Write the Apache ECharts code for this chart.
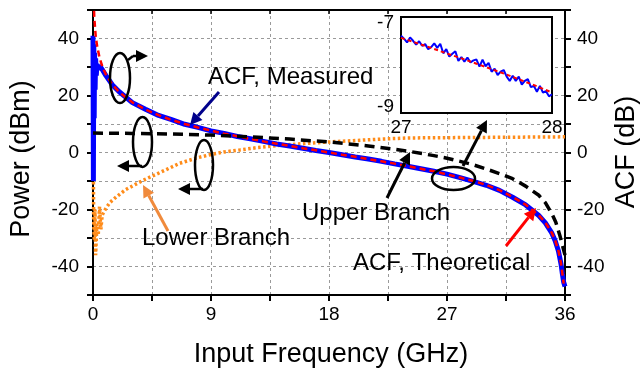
<!DOCTYPE html>
<html><head><meta charset="utf-8">
<script src="https://cdn.jsdelivr.net/npm/echarts@6/dist/echarts.min.js"></script>
<style>html,body{margin:0;padding:0;background:#fff}#c{width:641px;height:375px}</style>
</head><body><div id="c"></div>
<script>
// ---------- data (GHz, dB / dBm) ----------
const xTickLabels = [0, 9, 18, 27, 36];
const yTickLabels = [-40, -20, 0, 20, 40];
const insetXLabels = [27, 28];
const insetYLabels = [-9, -7];

const acfTheoX = [0.05,0.1,0.2,0.3,0.5,0.75,1,1.5,2,3,4,5,6,7,8,9,10,11,12,13,14,15,16,17,18,19,20,21,22,23,24,25,26,27,28,29,30,31,32,33,34,34.5,35,35.25,35.5,35.7,35.8,35.9];
const acfTheoY = [53.2,47.2,41.2,37.7,33.2,29.7,27.2,23.7,21.2,17.6,15.1,13.1,11.4,10.0,8.8,7.7,6.6,5.7,4.8,3.9,3.1,2.3,1.5,0.8,0,-0.8,-1.5,-2.3,-3.1,-3.9,-4.8,-5.7,-6.6,-7.7,-8.8,-10.0,-11.4,-13.2,-15.6,-18.3,-22.0,-24.6,-28.2,-30.8,-34.5,-39.0,-42.5,-46.0];

const acfMeasX = [0,0.03,0.06,0.09,0.12,0.16,0.2,0.25,0.3,0.4,0.5,0.75,1,1.5,2,3,4,5,6,7,8,9,10,11,12,13,14,15,16,17,18,19,20,21,22,23,24,25,26,27,28,29,30,31,32,33,34,34.5,35,35.25,35.5,35.7,35.8,35.9,36];
const acfMeasY = [41,-10,38,12,35,22,33,27,31,29,30.5,28.8,26.9,23.6,21.3,17.5,15.2,13.0,11.5,9.9,8.8,7.6,6.7,5.6,4.8,3.9,3.0,2.3,1.5,0.7,0.0,-0.8,-1.6,-2.3,-3.1,-4.0,-4.8,-5.7,-6.6,-7.6,-8.8,-10.1,-11.5,-13.3,-15.7,-18.4,-22.1,-24.7,-28.3,-31.0,-34.6,-39.2,-42.6,-45.5,-47];

const upperX = [0,3,6,9,12,15,18,21,24,26,27,28,29,30,31,32,33,34,34.5,35,35.3,35.6,35.8,36];
const upperY = [6.8,6.7,6.5,6.1,5.5,4.7,3.7,2.3,0.5,-1.1,-2.0,-3.1,-4.3,-5.8,-7.4,-9.2,-11.8,-15.0,-17.6,-21.5,-24.5,-29.0,-32.5,-36];

const lowerX = [0,0.02,0.05,0.1,0.15,0.2,0.3,0.4,0.5,0.6,0.7,0.8,1.0,1.3,1.8,2.5,3.6,4.5,5.5,6.6,8,9,10,11.2,12.5,14,16,18,20,22,24,27,30,33,36];
const lowerY = [16,-2,-24,-31,-20,-36,-25,-29,-19,-27,-22,-21,-19.5,-17.5,-15.5,-13,-10.3,-8.3,-6.2,-3.8,-1.8,-0.7,0.2,0.9,1.7,2.4,3.1,3.7,4.2,4.7,5.1,5.2,5.3,5.4,5.5];

const insetMeasX = [27,27.02,27.04,27.06,27.08,27.1,27.12,27.14,27.16,27.18,27.2,27.22,27.24,27.26,27.28,27.3,27.32,27.34,27.36,27.38,27.4,27.42,27.44,27.46,27.48,27.5,27.52,27.54,27.56,27.58,27.6,27.62,27.64,27.66,27.68,27.7,27.72,27.74,27.76,27.78,27.8,27.82,27.84,27.86,27.88,27.9,27.92,27.94,27.96,27.98,28];
const insetMeasY = [-7.30,-7.37,-7.46,-7.34,-7.42,-7.51,-7.43,-7.54,-7.50,-7.62,-7.57,-7.48,-7.59,-7.49,-7.72,-7.62,-7.80,-7.73,-7.67,-7.90,-7.81,-7.92,-7.82,-7.94,-7.89,-7.87,-8.04,-7.87,-8.03,-7.95,-8.16,-8.09,-8.24,-8.16,-8.12,-8.28,-8.38,-8.26,-8.38,-8.28,-8.47,-8.38,-8.34,-8.53,-8.50,-8.64,-8.50,-8.66,-8.63,-8.75,-8.70];
const insetTheoX = [27,27.1,27.2,27.3,27.4,27.5,27.6,27.7,27.8,27.9,28];
const insetTheoY = [-7.35,-7.47,-7.59,-7.72,-7.84,-7.97,-8.10,-8.23,-8.37,-8.51,-8.66];

// ---------- chart ----------
const FONT = '"Liberation Sans", Arial, sans-serif';
const pairs = (xs, ys) => xs.map((x, i) => [x, ys[i]]);
const near = (v, list) => list.some(t => Math.abs(t - v) < 1e-6);

function arrow(x0, y0, x1, y1, color, w) {
  const a = Math.atan2(y1 - y0, x1 - x0), L = 12, H = 6;
  const bx = x1 - L * Math.cos(a), by = y1 - L * Math.sin(a);
  const px = -Math.sin(a) * H, py = Math.cos(a) * H;
  return [
    {type: 'line', z: 30, shape: {x1: x0, y1: y0, x2: bx, y2: by}, style: {stroke: color, lineWidth: w}},
    {type: 'polygon', z: 30, shape: {points: [[x1, y1], [bx + px, by + py], [bx - px, by - py]]}, style: {fill: color}}
  ];
}
function ell(cx, cy, rx, ry) {
  return {type: 'ellipse', z: 30, shape: {cx, cy, rx, ry}, style: {fill: 'none', stroke: '#000', lineWidth: 2.5}};
}
function txt(x, y, s, size, opts) {
  return Object.assign({type: 'text', z: 30, x, y,
    style: {text: s, fill: '#000', fontSize: size, fontFamily: FONT, align: 'left', verticalAlign: 'middle'}}, opts || {});
}
function title(x, y, s, rot) {
  return {type: 'text', z: 30, x, y, rotation: rot || 0,
    style: {text: s, fill: '#000', fontSize: 27, fontFamily: FONT, align: 'center', verticalAlign: 'middle'}};
}

const axisBlack = {onZero: false, lineStyle: {color: '#000', width: 2}};
const gridLine = {show: true, lineStyle: {color: '#9a9a9a', width: 1, type: [3, 3]}};
const labelStyle = {color: '#000', fontSize: 19, fontFamily: FONT};

const chart = echarts.init(document.getElementById('c'), null, {renderer: 'canvas'});
chart.setOption({
  animation: false,
  backgroundColor: '#fff',
  grid: [
    {left: 93, right: 76, top: 10, bottom: 80, show: true, borderColor: '#000', borderWidth: 2, backgroundColor: 'transparent'},
    {left: 401, top: 17, width: 151, height: 96, show: true, borderColor: '#000', borderWidth: 2, backgroundColor: '#fff', z: 8}
  ],
  xAxis: [
    {gridIndex: 0, type: 'value', min: 0, max: 36, interval: 4.5, position: 'bottom',
     axisLine: axisBlack, axisTick: {show: true, length: 6, lineStyle: {color: '#000', width: 2}},
     axisLabel: Object.assign({margin: 10, formatter: v => near(v, xTickLabels) ? String(v) : ''}, labelStyle),
     splitLine: gridLine},
    {gridIndex: 0, type: 'value', min: 0, max: 36, interval: 4.5, position: 'top',
     axisLine: axisBlack, axisTick: {show: true, inside: true, length: 4, lineStyle: {color: '#000', width: 1.5}},
     axisLabel: {show: false}, splitLine: {show: false}},
    {gridIndex: 1, type: 'value', min: 27, max: 28, interval: 1, z: 9,
     axisLine: {show: false, onZero: false}, axisTick: {show: false},
     axisLabel: Object.assign({margin: 5, customValues: insetXLabels}, labelStyle),
     splitLine: {show: false}}
  ],
  yAxis: [
    {gridIndex: 0, type: 'value', min: -50, max: 50, interval: 10, position: 'left',
     axisLine: axisBlack, axisTick: {show: true, length: 6, lineStyle: {color: '#000', width: 2}},
     axisLabel: Object.assign({margin: 14, formatter: v => near(v, yTickLabels) ? String(v) : ''}, labelStyle),
     splitLine: gridLine},
    {gridIndex: 0, type: 'value', min: -50, max: 50, interval: 10, position: 'right',
     axisLine: axisBlack, axisTick: {show: true, length: 6, lineStyle: {color: '#000', width: 2}},
     axisLabel: Object.assign({margin: 12, formatter: v => near(v, yTickLabels) ? String(v) : ''}, labelStyle),
     splitLine: {show: false}},
    {gridIndex: 1, type: 'value', min: -9.15, max: -6.85, z: 9,
     axisLine: {show: false, onZero: false}, axisTick: {show: false},
     axisLabel: Object.assign({margin: 7, customValues: insetYLabels}, labelStyle),
     splitLine: {show: false}}
  ],
  series: [
    {name: 'Lower Branch', type: 'line', xAxisIndex: 0, yAxisIndex: 0, data: pairs(lowerX, lowerY),
     showSymbol: false, z: 3, lineStyle: {color: '#ff8c1a', width: 3.5, type: [2.5, 2.5]}},
    {name: 'ACF, Measured', type: 'line', xAxisIndex: 0, yAxisIndex: 0, data: pairs(acfMeasX, acfMeasY),
     showSymbol: false, z: 4, lineStyle: {color: '#0000ff', width: 5}},
    {name: 'ACF, Theoretical', type: 'line', xAxisIndex: 0, yAxisIndex: 0, data: pairs(acfTheoX, acfTheoY),
     showSymbol: false, z: 5, lineStyle: {color: '#ff0000', width: 2.5, type: [6, 4]}},
    {name: 'Upper Branch', type: 'line', xAxisIndex: 0, yAxisIndex: 0, data: pairs(upperX, upperY),
     showSymbol: false, z: 6, lineStyle: {color: '#000', width: 3.5, type: [10, 6]}},
    {name: 'Inset Measured', type: 'line', xAxisIndex: 2, yAxisIndex: 2, data: pairs(insetMeasX, insetMeasY),
     showSymbol: false, z: 12, lineStyle: {color: '#0000ff', width: 2}},
    {name: 'Inset Theoretical', type: 'line', xAxisIndex: 2, yAxisIndex: 2, data: pairs(insetTheoX, insetTheoY),
     showSymbol: false, z: 13, lineStyle: {color: '#ff0000', width: 2, type: [4, 3]}}
  ],
  graphic: [
    title(22, 159, 'Power (dBm)', Math.PI / 2),
    title(627, 152, 'ACF (dB)', Math.PI / 2),
    title(331, 355, 'Input Frequency (GHz)', 0),
    txt(208, 77, 'ACF, Measured', 24),
    txt(142, 238, 'Lower Branch', 24),
    txt(302, 213, 'Upper Branch', 24),
    txt(353, 263, 'ACF, Theoretical', 24),
    ell(120, 78, 10, 25),
    ell(142.5, 142, 9.5, 25),
    ell(204, 165, 9, 25),
    ell(453.5, 178.5, 21.5, 11.5),
    {type: 'polyline', z: 30, shape: {points: [[128, 60], [133, 56]]}, style: {stroke: '#000', lineWidth: 2.5, fill: 'none'}},
    ...arrow(133, 56, 148, 56, '#000', 2.5),
    ...arrow(142, 166, 117, 166, '#000', 2.5),
    ...arrow(203, 189, 178, 189, '#000', 2.5),
    ...arrow(463, 166, 487, 120, '#000', 3),
    ...arrow(387, 198, 410, 152, '#000', 3),
    ...arrow(219, 92, 190, 125, '#00008b', 3),
    ...arrow(168, 231, 143, 185, '#f08a3c', 3),
    ...arrow(506, 246, 536, 208, '#ff0000', 3)
  ]
});
</script>
</body></html>
